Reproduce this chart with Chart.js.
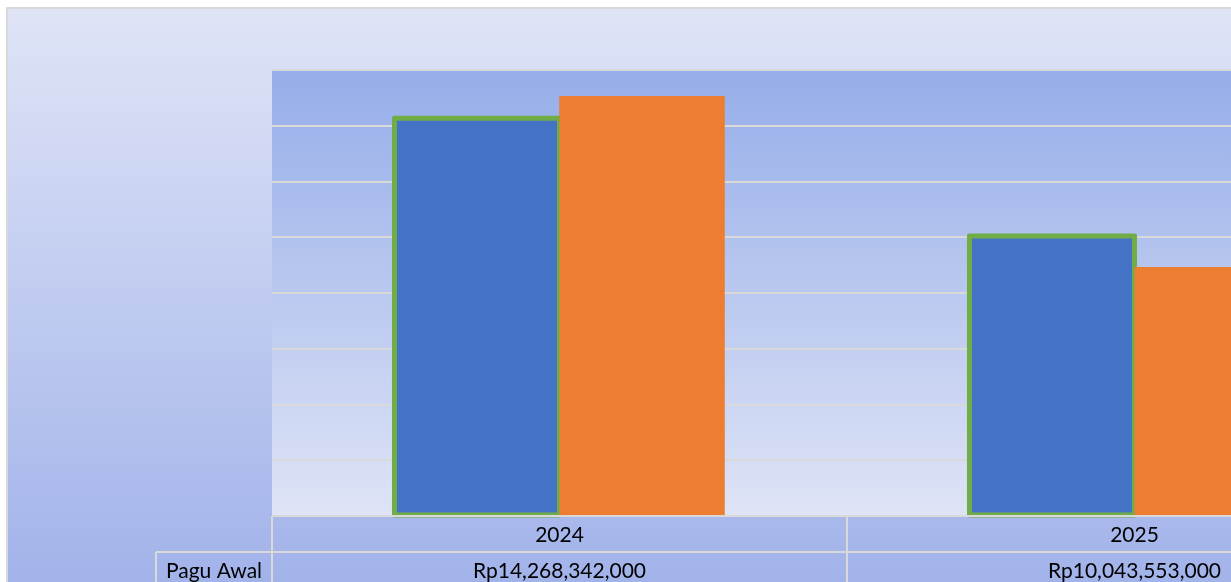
<!DOCTYPE html>
<html>
<head>
<meta charset="utf-8">
<script src="https://cdn.jsdelivr.net/npm/chart.js@4/dist/chart.umd.min.js"></script>
<style>
html,body{margin:0;padding:0;background:#ffffff;overflow:hidden;width:1231px;height:582px;}
#wrap{position:absolute;left:0;top:0;width:1440px;height:582px;}
</style>
</head>
<body>
<div id="wrap"><canvas id="c" width="1440" height="582"></canvas></div>
<script>
const categories = ['2024', '2025'];
const seriesNames = ['Pagu Awal', 'Pagu Akhir'];
const paguAwal = [14268342000, 10043553000];
const paguAkhir = [15070000000, 8930000000];
const yTicks = [0, 2e9, 4e9, 6e9, 8e9, 10e9, 12e9, 14e9, 16e9];

const FONT = '21px Lato, "Liberation Sans", sans-serif';
const fmt = v => 'Rp' + v.toLocaleString('en-US');

const backgroundPlugin = {
  id: 'bg',
  beforeDraw(chart) {
    const ctx = chart.ctx, W = chart.width, H = chart.height, a = chart.chartArea;
    ctx.save();
    ctx.fillStyle = '#ffffff';
    ctx.fillRect(0, 0, W, H);
    let g = ctx.createLinearGradient(0, 7, 0, 582);
    g.addColorStop(0, '#dfe4f6');
    g.addColorStop(1, '#a2b3ea');
    ctx.fillStyle = g;
    ctx.fillRect(6, 7, W - 6, H - 7);
    ctx.strokeStyle = '#d9d9d9';
    ctx.lineWidth = 2;
    ctx.beginPath();
    ctx.moveTo(7, H); ctx.lineTo(7, 8); ctx.lineTo(W, 8);
    ctx.stroke();
    g = ctx.createLinearGradient(0, a.top, 0, a.bottom);
    g.addColorStop(0, '#95ade9');
    g.addColorStop(1, '#dfe4f6');
    ctx.fillStyle = g;
    ctx.fillRect(a.left, a.top, a.right - a.left, a.bottom - a.top);
    ctx.restore();
  },
  afterDatasetsDraw(chart) {
    const ctx = chart.ctx;
    ctx.save();
    ctx.strokeStyle = '#70ad47';
    ctx.lineWidth = 5;
    ctx.lineJoin = 'round';
    chart.getDatasetMeta(0).data.forEach(el => {
      const p = el.getProps(['x', 'y', 'base', 'width'], true);
      ctx.strokeRect(p.x - p.width / 2, p.y, p.width, p.base - p.y);
    });
    ctx.restore();
    chart.getDatasetMeta(1).data.forEach(el => el.draw(ctx));
  },
  afterDraw(chart) {
    const ctx = chart.ctx, a = chart.chartArea, x = chart.scales.x, H = chart.height;
    const n = categories.length;
    const cw = (a.right - a.left) / n;
    const row1 = a.bottom, row2 = a.bottom + 36;
    const headLeft = 156;
    ctx.save();
    ctx.strokeStyle = '#d9d9d9';
    ctx.lineWidth = 2;
    ctx.beginPath();
    ctx.moveTo(a.left, row1); ctx.lineTo(a.right, row1);
    ctx.moveTo(headLeft, row2); ctx.lineTo(a.right, row2);
    for (let i = 0; i <= n; i++) {
      const xx = a.left + i * cw;
      ctx.moveTo(xx, row1); ctx.lineTo(xx, H);
    }
    ctx.moveTo(headLeft, row2); ctx.lineTo(headLeft, H);
    ctx.stroke();
    ctx.fillStyle = '#000000';
    ctx.font = FONT;
    ctx.textAlign = 'center';
    ctx.textBaseline = 'middle';
    categories.forEach((c, i) => {
      const cx = x.getPixelForValue(i);
      ctx.fillText(c, cx, row1 + 19);
      ctx.fillText(fmt(paguAwal[i]), cx, row2 + 19);
    });
    ctx.fillText(seriesNames[0], (headLeft + a.left) / 2, row2 + 19);
    ctx.restore();
  }
};

new Chart(document.getElementById('c'), {
  type: 'bar',
  data: {
    labels: categories,
    datasets: [
      {
        label: seriesNames[0],
        data: paguAwal,
        backgroundColor: '#4472c4',
        borderWidth: 0
      },
      {
        label: seriesNames[1],
        data: paguAkhir,
        backgroundColor: '#ed7d31',
        borderWidth: 0
      }
    ]
  },
  options: {
    responsive: false,
    animation: false,
    devicePixelRatio: 1,
    layout: { padding: { left: 272, top: 70, right: 18, bottom: 66 } },
    plugins: { legend: { display: false }, tooltip: { enabled: false }, title: { display: false } },
    datasets: { bar: { barPercentage: 1, categoryPercentage: 0.574 } },
    scales: {
      x: {
        ticks: { display: false },
        grid: { display: false, drawTicks: false },
        border: { display: false }
      },
      y: {
        min: yTicks[0],
        max: yTicks[yTicks.length - 1],
        afterBuildTicks: s => { s.ticks = yTicks.map(v => ({ value: v })); },
        ticks: { display: false },
        grid: { color: '#d9d9d9', lineWidth: 2, drawTicks: false },
        border: { display: false }
      }
    }
  },
  plugins: [backgroundPlugin]
});
</script>
</body>
</html>
